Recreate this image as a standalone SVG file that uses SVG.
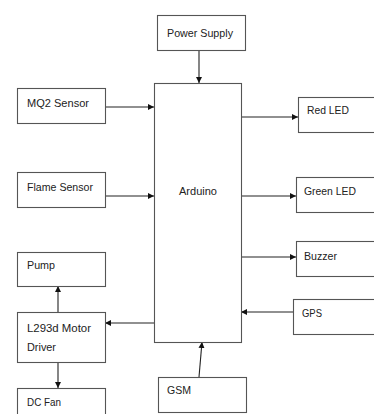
<svg xmlns="http://www.w3.org/2000/svg" width="374" height="414" viewBox="0 0 374 414">
<style>
.box{fill:#fff;stroke:#555;stroke-width:1.1}
.lbl{font-family:"Liberation Sans",Arial,sans-serif;font-size:11.5px;fill:#222}
.conn{stroke:#222;stroke-width:1.1;fill:none;marker-end:url(#ah)}
</style>
<defs>
<marker id="ah" viewBox="0 0 10 10" refX="10" refY="5" markerWidth="6" markerHeight="6" markerUnits="userSpaceOnUse" orient="auto">
<path d="M0,0 L10,5 L0,10 Z" fill="#111"/>
</marker>
</defs>
<rect width="374" height="414" fill="#fff"/>
<g id="connectors">
<line class="conn" x1="199" y1="50" x2="199" y2="83"/>
<line class="conn" x1="105" y1="107" x2="154" y2="107"/>
<line class="conn" x1="105" y1="196" x2="154" y2="196"/>
<line class="conn" x1="241" y1="117" x2="298" y2="117"/>
<line class="conn" x1="241" y1="196" x2="296" y2="196"/>
<line class="conn" x1="241" y1="257" x2="296" y2="257"/>
<line class="conn" x1="293" y1="312" x2="241" y2="312"/>
<line class="conn" x1="154" y1="323" x2="105" y2="323"/>
<line class="conn" x1="58" y1="312" x2="58" y2="286"/>
<line class="conn" x1="58" y1="362" x2="58" y2="388"/>
<line class="conn" x1="199" y1="377" x2="202" y2="342"/>
</g>
<g id="power"><rect class="box" x="157.5" y="15.5" width="88" height="35"/><text class="lbl" x="167" y="37" textLength="66" lengthAdjust="spacingAndGlyphs">Power Supply</text></g>
<g id="arduino"><rect class="box" x="154.5" y="83.5" width="87" height="259"/><text class="lbl" x="179" y="195" textLength="38" lengthAdjust="spacingAndGlyphs">Arduino</text></g>
<g id="mq2"><rect class="box" x="17.5" y="88.5" width="88" height="35"/><text class="lbl" x="27" y="107" textLength="62" lengthAdjust="spacingAndGlyphs">MQ2 Sensor</text></g>
<g id="flame"><rect class="box" x="17.5" y="172.5" width="88" height="35"/><text class="lbl" x="27" y="191" textLength="66" lengthAdjust="spacingAndGlyphs">Flame Sensor</text></g>
<g id="pump"><rect class="box" x="17.5" y="252.5" width="88" height="34"/><text class="lbl" x="27" y="269" textLength="28" lengthAdjust="spacingAndGlyphs">Pump</text></g>
<g id="motor"><rect class="box" x="17.5" y="312.5" width="88" height="50"/><text class="lbl" x="27" y="332" textLength="64" lengthAdjust="spacingAndGlyphs">L293d Motor</text><text class="lbl" x="27" y="351" textLength="29" lengthAdjust="spacingAndGlyphs">Driver</text></g>
<g id="dcfan"><rect class="box" x="17.5" y="388.5" width="88" height="35"/><text class="lbl" x="27" y="406" textLength="34" lengthAdjust="spacingAndGlyphs">DC Fan</text></g>
<g id="redled"><rect class="box" x="298.5" y="97.5" width="90" height="35"/><text class="lbl" x="307" y="114" textLength="42" lengthAdjust="spacingAndGlyphs">Red LED</text></g>
<g id="greenled"><rect class="box" x="296.5" y="177.5" width="90" height="35"/><text class="lbl" x="304" y="195" textLength="52" lengthAdjust="spacingAndGlyphs">Green LED</text></g>
<g id="buzzer"><rect class="box" x="296.5" y="241.5" width="90" height="35"/><text class="lbl" x="304" y="260" textLength="33" lengthAdjust="spacingAndGlyphs">Buzzer</text></g>
<g id="gps"><rect class="box" x="293.5" y="299.5" width="90" height="35"/><text class="lbl" x="302" y="317" textLength="20" lengthAdjust="spacingAndGlyphs">GPS</text></g>
<g id="gsm"><rect class="box" x="158.5" y="377.5" width="88" height="35"/><text class="lbl" x="167" y="394" textLength="24" lengthAdjust="spacingAndGlyphs">GSM</text></g>
</svg>
